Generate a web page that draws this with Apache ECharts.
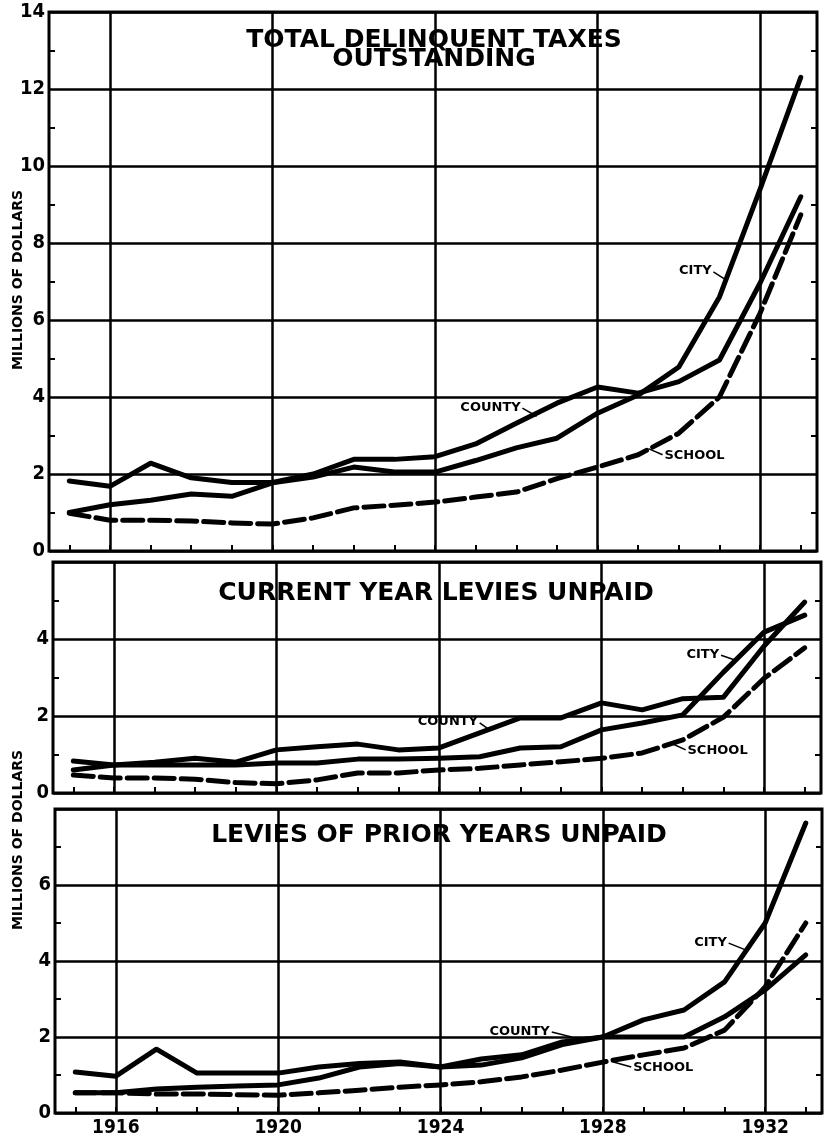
<!DOCTYPE html>
<html>
<head>
<meta charset="utf-8">
<script src="https://cdn.jsdelivr.net/npm/echarts@6/dist/echarts.min.js"></script>
<style>
  html, body { margin: 0; padding: 0; background: #fff; }
  #chart { width: 824px; height: 1141px; }
</style>
</head>
<body>
<div id="chart"></div>
<script>
// years on the x axis and the labelled ones
const years = [1915, 1916, 1917, 1918, 1919, 1920, 1921, 1922, 1923, 1924,
  1925, 1926, 1927, 1928, 1929, 1930, 1931, 1932, 1933];
const labelYears = [1916, 1920, 1924, 1928, 1932];

// total delinquent taxes outstanding (millions of dollars)
const totalCity = [1.0, 1.2, 1.32, 1.48, 1.42, 1.77, 1.92, 2.18, 2.05, 2.05,
  2.35, 2.68, 2.93, 3.58, 4.05, 4.78, 6.6, 9.4, 12.3];
const totalCounty = [1.82, 1.68, 2.28, 1.9, 1.78, 1.78, 2.0, 2.38, 2.38, 2.45,
  2.78, 3.32, 3.84, 4.26, 4.1, 4.4, 4.96, 6.96, 9.2];
const totalSchool = [0.98, 0.8, 0.8, 0.78, 0.73, 0.7, 0.86, 1.12, 1.19, 1.27,
  1.4, 1.53, 1.88, 2.18, 2.5, 3.06, 4.0, 6.18, 8.73];

// current year levies unpaid
const currentCity = [0.6, 0.73, 0.73, 0.73, 0.73, 0.78, 0.78, 0.88, 0.88, 0.9,
  0.94, 1.17, 1.2, 1.64, 1.82, 2.03, 3.14, 4.18, 4.62];
const currentCounty = [0.83, 0.73, 0.8, 0.9, 0.8, 1.12, 1.2, 1.27, 1.12, 1.17,
  1.56, 1.95, 1.95, 2.34, 2.16, 2.45, 2.49, 3.82, 4.96];
const currentSchool = [0.47, 0.39, 0.39, 0.36, 0.27, 0.24, 0.34, 0.52, 0.52, 0.6,
  0.64, 0.73, 0.81, 0.9, 1.04, 1.38, 1.97, 2.98, 3.77];

// levies of prior years unpaid
const priorCity = [0.53, 0.53, 0.63, 0.68, 0.71, 0.74, 0.92, 1.21, 1.3, 1.21,
  1.26, 1.45, 1.8, 2.0, 2.45, 2.71, 3.45, 5.0, 7.63];
const priorCounty = [1.08, 0.97, 1.68, 1.05, 1.05, 1.05, 1.21, 1.3, 1.34, 1.21,
  1.42, 1.53, 1.87, 2.0, 2.0, 2.0, 2.53, 3.24, 4.16];
const priorSchool = [0.53, 0.53, 0.5, 0.5, 0.48, 0.47, 0.53, 0.6, 0.68, 0.74,
  0.82, 0.95, 1.13, 1.34, 1.53, 1.71, 2.18, 3.32, 5.0];

const panelTitles = ['TOTAL DELINQUENT TAXES\nOUTSTANDING', 'CURRENT YEAR LEVIES UNPAID',
  'LEVIES OF PRIOR YEARS UNPAID'];
const yMaxes = [14, 6, 8];

const BLACK = '#000';
const X_MIN = 1914.5;
const X_MAX = 1933.4;

const grids = [
  { left: 49, top: 12, width: 768, height: 539 },
  { left: 53, top: 562, width: 768, height: 231 },
  { left: 55, top: 809, width: 767, height: 304 },
];

function pairs(values) {
  return years.map((y, i) => [y, values[i]]);
}

function leader(text, from, to) {
  return {
    symbol: 'none',
    silent: true,
    animation: false,
    lineStyle: { color: BLACK, width: 1.5, type: 'solid' },
    label: {
      show: true,
      position: 'start',
      formatter: text,
      distance: 2,
      color: BLACK,
      fontFamily: 'DejaVu Sans',
      fontWeight: 'bold',
      fontSize: 13,
    },
    data: [[{ coord: from }, { coord: to }]],
  };
}

function lineSeries(panel, values, dashed, note) {
  const s = {
    type: 'line',
    xAxisIndex: panel * 2,
    yAxisIndex: panel * 2,
    data: pairs(values),
    symbol: 'none',
    lineStyle: {
      color: BLACK,
      width: 5,
      type: dashed ? [20, 7] : 'solid',
      cap: 'round',
      join: 'round',
    },
  };
  if (note) s.markLine = note;
  return s;
}

const xAxes = [];
const yAxes = [];
grids.forEach((g, i) => {
  xAxes.push({
    type: 'value', gridIndex: i, min: X_MIN, max: X_MAX, position: 'bottom',
    axisLine: { show: false },
    axisTick: { show: true, inside: true, length: 6, lineStyle: { color: BLACK, width: 2 }, customValues: years },
    axisLabel: {
      show: i === 2, customValues: labelYears, margin: 6, color: BLACK,
      fontFamily: 'DejaVu Sans Condensed', fontWeight: 'bold', fontSize: 19,
      formatter: (v) => String(v),
    },
    splitLine: { show: false },
  });
  xAxes.push({
    type: 'value', gridIndex: i, min: X_MIN, max: X_MAX, position: 'top',
    axisLine: { show: false },
    axisTick: { show: false, customValues: labelYears },
    axisLabel: { show: false, customValues: labelYears },
    splitLine: { show: true, lineStyle: { color: BLACK, width: 2.5 } },
  });
  yAxes.push({
    type: 'value', gridIndex: i, min: 0, max: yMaxes[i], interval: 2, position: 'left',
    axisLine: { show: false },
    axisTick: { show: false, inside: true },
    minorTick: { show: true, splitNumber: 2, length: 6, lineStyle: { color: BLACK, width: 2 } },
    axisLabel: {
      margin: 4, color: BLACK, showMaxLabel: i === 0,
      fontFamily: 'DejaVu Sans Condensed', fontWeight: 'bold', fontSize: 20,
    },
    splitLine: { show: true, lineStyle: { color: BLACK, width: 2.5 } },
  });
  yAxes.push({
    type: 'value', gridIndex: i, min: 0, max: yMaxes[i], interval: 2, position: 'right',
    axisLine: { show: false },
    axisTick: { show: false, inside: true },
    minorTick: { show: true, splitNumber: 2, length: 6, lineStyle: { color: BLACK, width: 2 } },
    axisLabel: { show: false },
    splitLine: { show: false },
  });
});

const titleStyle = {
  fill: BLACK, fontFamily: 'DejaVu Sans', fontWeight: 'bold', fontSize: 25,
  align: 'center', verticalAlign: 'middle', lineHeight: 19,
};
const nameStyle = {
  fill: BLACK, fontFamily: 'DejaVu Sans', fontWeight: 'bold', fontSize: 14,
  align: 'center', verticalAlign: 'middle',
};

const option = {
  animation: false,
  backgroundColor: '#fff',
  grid: grids.map((g) => ({ ...g, show: true, borderColor: BLACK, borderWidth: 3, backgroundColor: 'transparent' })),
  xAxis: xAxes,
  yAxis: yAxes,
  graphic: [
    { type: 'text', x: 434, y: 50, style: { ...titleStyle, text: panelTitles[0] } },
    { type: 'text', x: 436, y: 593, style: { ...titleStyle, text: panelTitles[1] } },
    { type: 'text', x: 439, y: 835, style: { ...titleStyle, text: panelTitles[2] } },
    { type: 'text', x: 18, y: 280, rotation: Math.PI / 2, style: { ...nameStyle, text: 'MILLIONS OF DOLLARS' } },
    { type: 'text', x: 18, y: 840, rotation: Math.PI / 2, style: { ...nameStyle, text: 'MILLIONS OF DOLLARS' } },
  ],
  series: [
    lineSeries(0, totalCity, false, leader('CITY', [1930.85, 7.25], [1931.15, 7.05])),
    lineSeries(0, totalCounty, false, leader('COUNTY', [1926.15, 3.71], [1926.5, 3.5])),
    lineSeries(0, totalSchool, true, leader('SCHOOL', [1929.6, 2.5], [1929.25, 2.66])),
    lineSeries(1, currentCity, false, leader('CITY', [1930.94, 3.58], [1931.3, 3.45])),
    lineSeries(1, currentCounty, false, leader('COUNTY', [1925.0, 1.82], [1925.2, 1.67])),
    lineSeries(1, currentSchool, true, leader('SCHOOL', [1930.07, 1.12], [1929.7, 1.3])),
    lineSeries(2, priorCity, false, leader('CITY', [1931.1, 4.47], [1931.5, 4.3])),
    lineSeries(2, priorCounty, false, leader('COUNTY', [1926.74, 2.13], [1927.23, 2.0])),
    lineSeries(2, priorSchool, true, leader('SCHOOL', [1928.7, 1.21], [1928.26, 1.34])),
  ],
};

const chart = echarts.init(document.getElementById('chart'), null, { renderer: 'canvas' });
chart.setOption(option);
</script>
</body>
</html>
